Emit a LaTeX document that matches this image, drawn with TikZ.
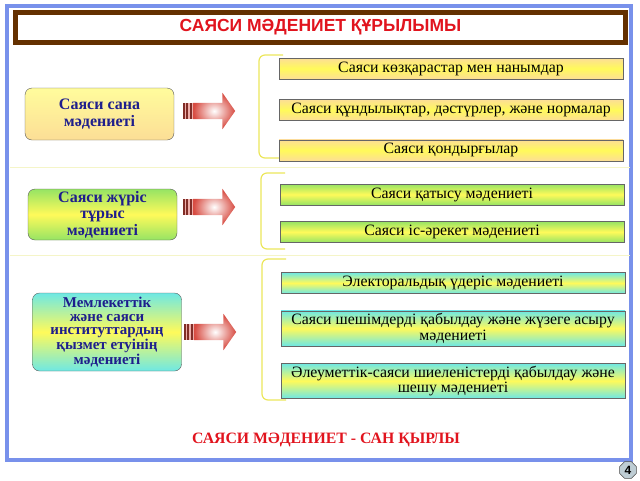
\documentclass[tikz,border=0pt]{standalone}
\usepackage{fontspec}
\setmainfont{Liberation Serif}
\newfontfamily\headfont{Liberation Sans}
\usetikzlibrary{calc}
\usetikzlibrary{positioning}
\usetikzlibrary{shapes.arrows}
\usetikzlibrary{shapes.geometric}

\definecolor{frameblue}{RGB}{120,145,235}
\definecolor{titlebrown}{RGB}{100,48,0}
\definecolor{titlered}{RGB}{225,20,30}
\definecolor{kindblue}{RGB}{30,30,140}
\definecolor{peach}{RGB}{252,222,150}
\definecolor{lemon}{RGB}{255,250,90}
\definecolor{leaf}{RGB}{150,228,100}
\definecolor{aqua}{RGB}{110,232,228}
\definecolor{arrowred}{RGB}{215,75,65}
\definecolor{bracecol}{RGB}{235,230,90}
\definecolor{sepcol}{RGB}{245,245,200}
\definecolor{badgecol}{RGB}{190,205,212}

\begin{document}
\begin{tikzpicture}[x=1pt,y=-1pt,
  kind/.style={draw=black!65,rounded corners=7pt,align=center,minimum width=149,inner sep=2pt,text=kindblue,font=\fontsize{16}{16.5}\selectfont\bfseries},
  item/.style={draw=black!60,minimum width=344,minimum height=21,inner sep=0pt,align=center,font=\fontsize{15.8}{15.5}\selectfont},
  bigarrow/.style={single arrow,shading=radial,inner color=white,outer color=arrowred,single arrow head extend=10pt,single arrow tip angle=110,minimum height=42,inner sep=8pt,anchor=tail},
  bracket/.style={draw=bracecol,line width=1.2pt,rounded corners=6pt}]

\useasboundingbox (0,0) rectangle (640,480);

% frame and title
\draw[frameblue,line width=4pt] (7,6) rectangle (631,460);
\node[draw=titlebrown,line width=5pt,fill=white,minimum width=610,minimum height=30,text=titlered,font=\headfont\fontsize{17.5}{18}\selectfont\bfseries] (title) at (320.5,27.5) {САЯСИ МӘДЕНИЕТ ҚҰРЫЛЫМЫ};

\draw[sepcol,line width=1pt] (10,167) -- (630,167);
\draw[sepcol,line width=1pt] (10,255) -- (630,255);

% row 1
\node[kind,top color=lemon!60!white,bottom color=peach,minimum height=52] (sana) at (99.5,114) {Саяси сана\\мәдениеті};
\node[bigarrow] (pil1) at (193,111) {};
\draw[bracket] (283,55) -- (259,55) -- (259,158) -- (283,158);
\node[item,top color=peach,bottom color=peach,middle color=lemon] (kozqaras) at (451,68.5) {Саяси көзқарастар мен нанымдар};
\node[item,top color=peach,bottom color=peach,middle color=lemon,below=20pt of kozqaras] (qundylyq) {Саяси құндылықтар, дәстүрлер, және нормалар};
\node[item,top color=peach,bottom color=peach,middle color=lemon,below=19pt of qundylyq] (qondyrgy) {Саяси қондырғылар};

% row 2
\node[kind,top color=leaf,bottom color=leaf,middle color=lemon,minimum height=51] (juris) at (102.5,214.5) {Саяси жүріс\\тұрыс\\мәдениеті};
\node[bigarrow] (pil2) at (193,207) {};
\draw[bracket] (285,173) -- (261,173) -- (261,249) -- (285,249);
\node[item,top color=leaf,bottom color=leaf,middle color=lemon] (qatysu) at (452,194.5) {Саяси қатысу мәдениеті};
\node[item,top color=leaf,bottom color=leaf,middle color=lemon,below=16pt of qatysu] (isareket) {Саяси іс-әрекет мәдениеті};

% row 3
\node[kind,top color=aqua,bottom color=aqua,middle color=lemon,minimum height=78,font=\fontsize{15}{13.6}\selectfont\bfseries] (institut) at (107,332) {Мемлекеттік\\және саяси\\институттардың\\қызмет етуінің\\мәдениеті};
\node[bigarrow] (pil3) at (194,332) {};
\draw[bracket] (286,259) -- (262,259) -- (262,400) -- (286,400);
\node[item,top color=aqua,bottom color=aqua,middle color=lemon] (saylau) at (453,283) {Электоральдық үдеріс мәдениеті};
\node[item,top color=aqua,bottom color=aqua,middle color=lemon,minimum height=35,below=17pt of saylau] (sheshim) {Саяси шешімдерді қабылдау және жүзеге асыру\\мәдениеті};
\node[item,top color=aqua,bottom color=aqua,middle color=lemon,minimum height=35,below=17pt of sheshim] (shielenis) {Әлеуметтік-саяси шиеленістерді қабылдау және\\шешу мәдениеті};

% arrow tails
\foreach \p in {pil1,pil2,pil3} {
  \fill[arrowred!45] ($(\p.tail)+(-10,-8)$) rectangle ($(\p.tail)+(0,8)$);
  \foreach \i in {0,1,2}
    \fill[arrowred!60!black] ($(\p.tail)+(-10+3.4*\i,-8)$) rectangle +(2,16);
}

\node[text=titlered,font=\fontsize{15.8}{16}\selectfont\bfseries] (qyrly) at (326,440) {САЯСИ МӘДЕНИЕТ - САН ҚЫРЛЫ};
\node[regular polygon,regular polygon sides=8,draw=black!70,fill=badgecol,minimum size=18,inner sep=0pt,font=\headfont\fontsize{12}{12}\selectfont\bfseries] (bet) at (628,470) {4};
\end{tikzpicture}
\end{document}
